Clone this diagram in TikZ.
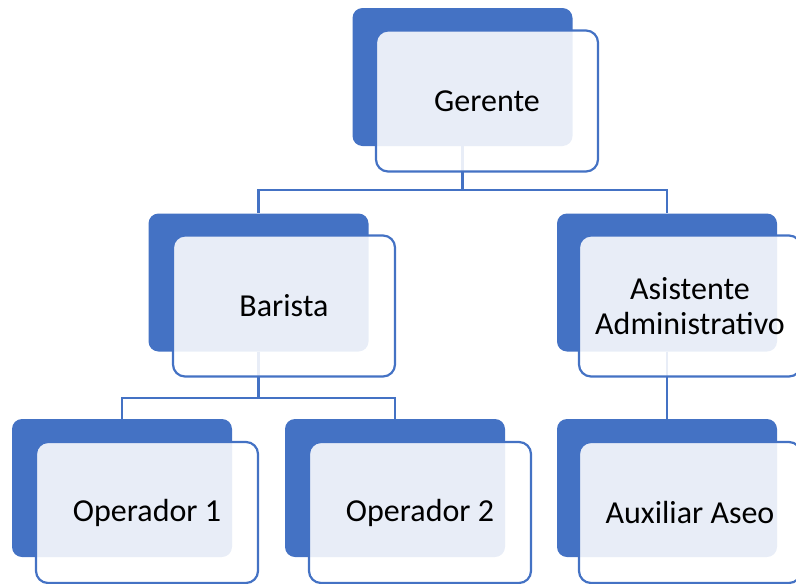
\documentclass[tikz,border=0pt]{standalone}
\usepackage{fontspec}
\setmainfont{Carlito}
\definecolor{accent}{HTML}{4472C4}
\tikzset{
  backbox/.style={fill=accent, draw=none, rounded corners=10pt, minimum width=220pt, minimum height=138pt, inner sep=0pt},
  frontbox/.style={draw=accent, line width=2.2pt, fill=white, fill opacity=0.88, text opacity=1, rounded corners=12pt, minimum width=222pt, minimum height=141pt, inner sep=0pt, align=center, font=\fontsize{32}{35}\selectfont},
  conn/.style={draw=accent, line width=2.2pt}
}
\begin{document}
\begin{tikzpicture}[x=1pt,y=-1pt]
\useasboundingbox (0,0) rectangle (796,584);
\clip (0,0) rectangle (796,584);
% back boxes
\node[backbox] (gb) at (462.5,77) {};
\node[backbox] (bb) at (258.5,282.5) {};
\node[backbox] (ab) at (667,282.5) {};
\node[backbox] (o1b) at (122,488) {};
\node[backbox] (o2b) at (395,488) {};
\node[backbox] (xb) at (667,488) {};
% connectors
\coordinate (j1) at (462.5,190);
\coordinate (j2) at (258.5,398);
\draw[conn] (gb.south) -- (j1) -| (bb.north);
\draw[conn] (j1) -| (ab.north);
\draw[conn] (bb.south) -- (j2) -| (o1b.north);
\draw[conn] (j2) -| (o2b.north);
\draw[conn] (ab.south) -- (xb.north);
% front boxes
\node[frontbox] (g) at (487,101) {Gerente};
\node[frontbox] (b) at (284,306) {Barista};
\node[frontbox] (a) at (690,306) {Asistente\\Administrativo};
\node[frontbox] (o1) at (147,512.5) {Operador 1};
\node[frontbox] (o2) at (420,512.5) {Operador 2};
\node[frontbox] (x) at (690,512.5) {Auxiliar Aseo};
\end{tikzpicture}
\end{document}
